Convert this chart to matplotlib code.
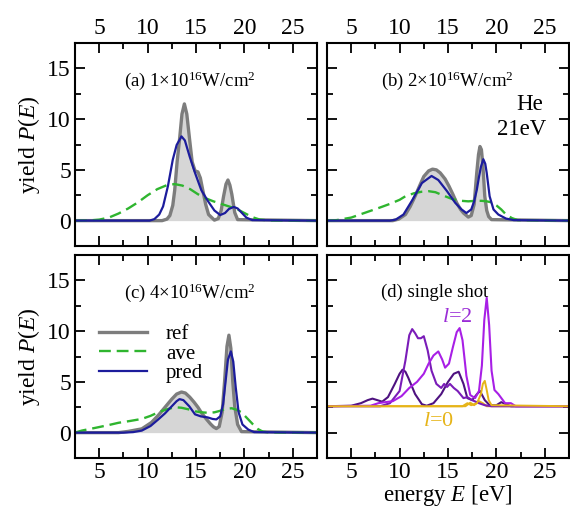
"""
He 21eV photoelectron yield: reference, averaged and predicted spectra
"""
import numpy as np
import matplotlib
matplotlib.use('Agg')
import matplotlib.pyplot as plt
from matplotlib.ticker import MultipleLocator

plt.rcParams['font.family'] = ['Liberation Serif', 'DejaVu Serif']
plt.rcParams['mathtext.fontset'] = 'custom'
plt.rcParams['mathtext.rm'] = 'Liberation Serif'
plt.rcParams['mathtext.it'] = 'Liberation Serif:italic'

########################################################################################################################
# Data (energy in eV, yield P(E))
########################################################################################################################

# (a) 1x10^16 W/cm^2
E_a_ref = [2.5, 11.5, 12.0, 12.3, 12.6, 12.8, 13.05, 13.3, 13.55, 13.8, 14.05, 14.35, 14.6, 14.9, 15.2, 15.45,
           15.7, 16.0, 16.3, 16.9, 17.3, 17.6, 17.85, 18.1, 18.3, 18.5, 18.7, 19.0, 19.3, 27.5]
P_a_ref = [0, 0, 0.15, 0.5, 1.5, 3.0, 5.8, 8.0, 10.5, 11.5, 10.5, 7.9, 5.8, 4.9, 4.8, 4.2,
           3.0, 1.6, 0.6, 0.05, 0.2, 1.0, 2.4, 3.6, 4.0, 3.5, 2.6, 0.8, 0.1, 0]
E_a_pred = [2.5, 10.2, 10.7, 11.2, 11.6, 12.1, 12.6, 13.0, 13.5, 13.85, 14.35, 14.9, 15.55, 16.25, 16.9, 17.5,
            18.0, 18.4, 18.9, 19.3, 19.7, 20.2, 20.8, 27.5]
P_a_pred = [0, 0, 0.15, 0.6, 1.4, 3.4, 6.0, 7.45, 8.3, 7.9, 6.3, 4.7, 3.0, 1.9, 1.0, 0.55,
            0.75, 1.15, 1.35, 1.2, 0.8, 0.3, 0.05, 0]
E_a_ave = [2.5, 4.0, 5.0, 6.0, 7.0, 8.0, 9.0, 10.0, 11.0, 12.0, 12.8, 13.6, 14.4, 15.2, 16.0, 16.8,
           17.6, 18.4, 19.2, 20.0, 20.8, 21.6, 22.5, 27.5]
P_a_ave = [0, 0.02, 0.1, 0.3, 0.7, 1.2, 1.8, 2.5, 3.1, 3.5, 3.6, 3.45, 3.1, 2.6, 2.2, 1.9,
           1.65, 1.4, 1.15, 0.75, 0.35, 0.1, 0.02, 0]

# (b) 2x10^16 W/cm^2
E_b_ref = [2.5, 9.3, 9.9, 10.6, 11.1, 11.6, 12.1, 12.5, 13.0, 13.4, 13.8, 14.2, 14.7, 15.1, 15.5, 15.9,
           16.3, 16.6, 17.1, 17.4, 17.7, 17.97, 18.15, 18.3, 18.45, 18.6, 18.8, 19.0, 19.2, 19.5, 27.5]
P_b_ref = [0, 0, 0.15, 0.6, 1.4, 2.4, 3.5, 4.35, 4.9, 5.07, 5.0, 4.7, 4.1, 3.4, 2.6, 1.75,
           1.1, 0.75, 0.35, 0.5, 1.6, 4.7, 6.5, 7.3, 7.0, 5.5, 2.4, 1.0, 0.4, 0.1, 0]
E_b_pred = [2.5, 9.0, 9.6, 10.4, 11.3, 12.3, 13.3, 14.0, 14.9, 15.75, 16.4, 16.9, 17.4, 17.7, 17.97, 18.2,
            18.4, 18.65, 18.85, 19.0, 19.3, 19.7, 20.2, 21.0, 21.8, 27.5]
P_b_pred = [0, 0, 0.1, 0.6, 2.0, 3.7, 4.4, 4.0, 2.9, 1.75, 1.1, 0.75, 1.1, 1.9, 3.0, 4.3,
            5.3, 6.05, 5.6, 4.7, 2.4, 1.1, 0.6, 0.2, 0.05, 0]
E_b_ave = [2.5, 3.5, 5.0, 6.5, 8.0, 9.0, 10.0, 10.6, 11.5, 12.3, 13.0, 13.7, 14.7, 15.5, 16.4, 17.1,
           17.8, 18.5, 19.0, 19.5, 20.0, 20.5, 21.0, 21.6, 22.2, 27.5]
P_b_ave = [0, 0.05, 0.3, 0.8, 1.3, 1.65, 2.05, 2.4, 2.7, 2.85, 2.9, 2.8, 2.4, 2.1, 1.95, 1.9,
           1.95, 1.95, 1.9, 1.8, 1.5, 1.1, 0.6, 0.25, 0.05, 0]

# (c) 4x10^16 W/cm^2
E_c_ref = [2.5, 7.0, 8.0, 9.4, 10.4, 11.1, 11.8, 12.5, 13.0, 13.5, 13.9, 14.35, 14.8, 15.2, 15.6, 16.1,
           16.5, 16.8, 17.1, 17.4, 17.7, 17.95, 18.2, 18.4, 18.6, 18.8, 19.0, 19.3, 19.7, 27.5]
P_c_ref = [0, 0, 0.12, 0.37, 1.0, 1.7, 2.5, 3.3, 3.8, 4.0, 3.9, 3.5, 3.0, 2.5, 1.9, 1.3,
           0.85, 0.57, 0.4, 0.6, 2.0, 5.0, 8.5, 9.6, 8.3, 5.0, 2.6, 0.8, 0.1, 0]
E_c_pred = [2.5, 7.5, 8.5, 9.4, 10.3, 11.1, 11.8, 12.5, 13.0, 13.3, 13.7, 14.3, 14.9, 15.5, 16.2, 16.7,
            17.1, 17.5, 17.8, 18.05, 18.3, 18.6, 18.85, 19.1, 19.4, 19.8, 20.4, 21.0, 27.5]
P_c_pred = [0, 0, 0.05, 0.2, 0.65, 1.3, 1.9, 2.6, 3.1, 3.3, 3.2, 2.6, 1.8, 1.6, 1.5, 1.35,
            1.3, 1.6, 2.8, 5.0, 7.2, 8.0, 7.0, 4.5, 2.0, 0.8, 0.3, 0.05, 0]
E_c_ave = [2.5, 3.2, 4.6, 6.0, 7.0, 8.2, 9.4, 10.3, 11.1, 12.0, 12.8, 13.5, 14.2, 14.9, 15.6, 16.3,
           16.9, 17.5, 18.1, 18.7, 19.2, 19.7, 20.3, 20.9, 21.4, 21.9, 22.5, 27.5]
P_c_ave = [0.0, 0.2, 0.47, 0.75, 0.97, 1.15, 1.35, 1.65, 2.0, 2.3, 2.5, 2.45, 2.3, 2.1, 2.0, 1.95,
           2.0, 2.15, 2.35, 2.4, 2.25, 2.0, 1.4, 0.8, 0.35, 0.1, 0.02, 0]

# (d) single shot spectra, drawn on top of a baseline
d_base = 2.6
E_d1 = [2.5, 5.0, 6.0, 6.7, 7.2, 7.7, 8.2, 8.8, 9.5, 10.0, 10.3, 10.6, 10.9, 11.6, 12.3, 12.8, 13.5, 14.3,
        15.0, 15.6, 16.1, 16.6, 17.0, 17.5, 18.0, 18.3, 18.8, 19.3, 20.0, 20.5, 21.0, 21.5, 27.5]
h_d1 = [0, 0.05, 0.3, 0.6, 0.75, 0.6, 0.45, 0.9, 2.2, 3.2, 3.6, 3.4, 2.8, 1.2, 0.2, 0.05, 0.3, 1.2,
        2.4, 3.2, 3.4, 2.2, 0.8, 0.6, 1.2, 1.5, 0.6, 0.1, 0.1, 0.4, 0.2, 0, 0]
E_d2 = [2.5, 8.0, 9.0, 10.0, 10.6, 11.0, 11.3, 11.6, 11.9, 12.2, 12.5, 12.9, 13.3, 13.8, 14.3, 14.6,
        14.9, 15.2, 15.6, 16.0, 16.6, 17.0, 17.5, 18.2, 18.8, 19.5, 27.5]
h_d2 = [0, 0, 0.3, 1.5, 4.5, 7.0, 7.6, 7.2, 6.7, 6.7, 6.9, 5.5, 3.5, 2.2, 1.8, 2.2,
        1.9, 2.2, 1.8, 1.5, 0.8, 0.9, 0.6, 0.3, 0.1, 0, 0]
E_d3 = [2.5, 7.0, 7.8, 8.5, 9.3, 10.2, 11.0, 11.8, 12.5, 13.0, 13.5, 14.0, 14.4, 14.7, 15.1, 15.5,
        15.9, 16.2, 16.5, 16.9, 17.3, 17.8, 18.2, 18.5, 18.75, 19.0, 19.25, 19.5, 19.8, 20.2, 20.9,
        21.5, 22.0, 27.5]
h_d3 = [0, 0.05, 0.3, 0.4, 0.5, 1.0, 1.8, 2.4, 3.2, 4.2, 5.0, 5.4, 4.6, 3.8, 4.2, 5.8,
        7.3, 7.7, 6.5, 3.0, 1.1, 0.8, 1.5, 4.0, 8.5, 10.7, 8.0, 3.5, 1.6, 1.2, 0.3,
        0.3, 0, 0]
E_d0 = [2.5, 16.5, 17.0, 17.4, 18.0, 18.4, 18.6, 18.8, 19.0, 19.2, 19.5, 27.5]
h_d0 = [0, 0, 0.3, 0.1, 0.3, 1.2, 2.2, 2.5, 1.6, 0.6, 0.1, 0]
E_d0b = [2.5, 16.8, 17.3, 17.7, 18.2, 18.6, 19.0, 27.5]
h_d0b = [0, 0, 0.35, 0.1, 0.5, 0.3, 0, 0]

titles = ['(a) 1\u00d710$^{16}$W/cm$^2$', '(b) 2\u00d710$^{16}$W/cm$^2$',
          '(c) 4\u00d710$^{16}$W/cm$^2$', '(d) single shot']
title_x = [0.475, 0.496, 0.475, 0.444]

c_ref = '#7d7d7d'
c_fill = '#d6d6d6'
c_ave = '#2fb52f'
c_pred = '#1c1c9c'
c_purple = ['#4e1280', '#7a1cb8', '#a81fe6']
c_gold = '#e6b418'

########################################################################################################################
# Figure
########################################################################################################################

fig = plt.figure(figsize=(5.7, 5.15), dpi=100)
W, H = 570.0, 515.0
ax_a = fig.add_axes([75 / W, (H - 246) / H, 242 / W, 203 / H])
ax_b = fig.add_axes([327 / W, (H - 246) / H, 242 / W, 203 / H])
ax_c = fig.add_axes([75 / W, (H - 458) / H, 242 / W, 203 / H])
ax_d = fig.add_axes([327 / W, (H - 458) / H, 242 / W, 203 / H])
axes = [ax_a, ax_b, ax_c, ax_d]

def spectrum(ax, E_ref, P_ref, E_ave, P_ave, E_pred, P_pred):
    ax.fill_between(E_ref, P_ref, 0, color=c_fill, lw=0)
    ax.plot(E_ref, P_ref, c=c_ref, lw=2.4, label='ref')
    ax.plot(E_ave, P_ave, c=c_ave, lw=1.7, dashes=(5, 2.5), label='ave')
    ax.plot(E_pred, P_pred, c=c_pred, lw=1.6, label='pred')

spectrum(ax_a, E_a_ref, P_a_ref, E_a_ave, P_a_ave, E_a_pred, P_a_pred)
spectrum(ax_b, E_b_ref, P_b_ref, E_b_ave, P_b_ave, E_b_pred, P_b_pred)
spectrum(ax_c, E_c_ref, P_c_ref, E_c_ave, P_c_ave, E_c_pred, P_c_pred)

# single shot panel
ax_d.plot(E_d0b, np.array(h_d0b) + d_base, c=c_gold, lw=1.4)
for E, h, col in zip([E_d1, E_d2, E_d3], [h_d1, h_d2, h_d3], c_purple):
    ax_d.plot(E, np.array(h) + d_base, c=col, lw=1.5)
ax_d.plot(E_d0, np.array(h_d0) + d_base, c=c_gold, lw=1.4)
ax_d.text(16.0, 11.3, '$l$=2', color='#9a2cd6', fontsize=16, ha='center', va='center')
ax_d.text(14.0, 1.1, '$l$=0', color=c_gold, fontsize=16, ha='center', va='center')

for ax, t, tx in zip(axes, titles, title_x):
    ax.set_xlim(2.5, 27.5)
    ax.set_ylim(-2.5, 17.5)
    ax.xaxis.set_major_locator(MultipleLocator(5))
    ax.xaxis.set_minor_locator(MultipleLocator(2.5))
    ax.yaxis.set_major_locator(MultipleLocator(5))
    ax.yaxis.set_minor_locator(MultipleLocator(2.5))
    ax.tick_params(which='both', direction='in', top=True, right=True, width=1.3, labelsize=17)
    ax.tick_params(which='major', length=7)
    ax.tick_params(which='minor', length=4)
    for s in ax.spines.values():
        s.set_linewidth(1.5)
    ax.text(tx, 0.815, t, transform=ax.transAxes, fontsize=13.5, ha='center', va='center')

for ax in (ax_a, ax_b):
    ax.tick_params(labeltop=True, labelbottom=False, pad=3)
for ax in (ax_c, ax_d):
    ax.tick_params(pad=3)
for ax in (ax_b, ax_d):
    ax.tick_params(labelleft=False)
for ax in (ax_a, ax_c):
    ax.set_ylabel('yield $P(E)$', fontsize=17, labelpad=4)

ax_b.text(24.8, 11.4, 'He', fontsize=16.5, ha='right', va='center')
ax_b.text(25.1, 9.0, '21eV', fontsize=16.5, ha='right', va='center')

ax_d.set_xlabel('energy $E$ [eV]', fontsize=16.5, labelpad=0)

ax_c.legend(loc='upper left', bbox_to_anchor=(0.04, 0.73), frameon=False, fontsize=15,
            handlelength=2.3, handletextpad=0.9, labelspacing=0.0, borderpad=0.2)

plt.savefig('out.png', dpi=100)
